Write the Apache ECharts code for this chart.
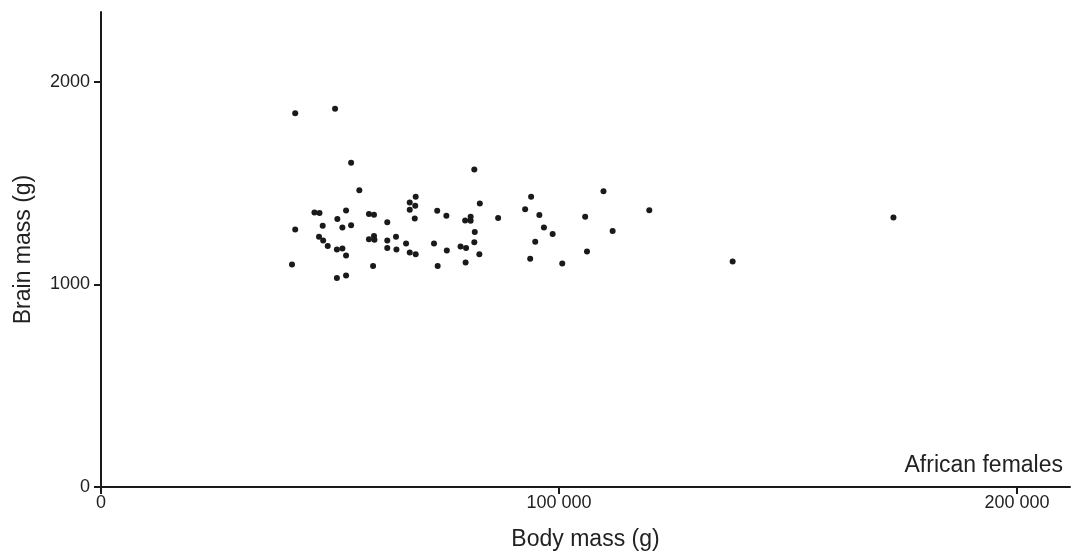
<!DOCTYPE html>
<html>
<head>
<meta charset="utf-8">
<script src="https://cdn.jsdelivr.net/npm/echarts@6/dist/echarts.min.js"></script>
<style>
html,body{margin:0;padding:0;background:#fff;}
#chart{width:1080px;height:560px;}
</style>
</head>
<body>
<div id="chart"></div>
<script>
// Body mass (g) and brain mass (g), African females
const bodyMass = [41700, 42400, 42400, 46600, 47700, 47600, 48500, 49500, 48400, 51100,
  51600, 51500, 51500, 52700, 52700, 53500, 53500, 53500, 54600, 54600,
  56400, 58500, 59600, 58500, 59600, 59700, 59400, 62500, 62500, 62500,
  64400, 64500, 66600, 67400, 67400, 68700, 68600, 68500, 67400, 68700,
  72700, 73400, 73500, 75400, 75500, 78500, 79500, 79700, 79600, 80700,
  80700, 81500, 81600, 81500, 82700, 82600, 86700, 92600, 93900, 95700,
  96700, 98600, 94800, 93700, 100700, 105700, 106100, 109700, 111700, 119700,
  137900, 173000];
const brainMass = [1098, 1271, 1844, 1355, 1352, 1235, 1217, 1189, 1289, 1867,
  1322, 1172, 1031, 1281, 1177, 1143, 1044, 1365, 1292, 1600,
  1465, 1347, 1343, 1223, 1239, 1220, 1091, 1306, 1217, 1179,
  1235, 1172, 1202, 1404, 1368, 1432, 1388, 1325, 1157, 1148,
  1202, 1363, 1090, 1338, 1167, 1187, 1315, 1180, 1108, 1333,
  1314, 1567, 1258, 1208, 1399, 1149, 1327, 1371, 1432, 1342,
  1281, 1249, 1210, 1126, 1103, 1333, 1162, 1460, 1263, 1366,
  1113, 1330];
const xTicks = [0, 100000, 200000];
const yTicks = [0, 1000, 2000];
const panelLabel = 'African females';

const points = bodyMass.map((x, i) => [x, brainMass[i]]);
const FONT = '"Liberation Sans", Arial, Helvetica, sans-serif';
const INK = '#1a1a1a';

function fmtThousands(v) {
  return String(v).replace(/\B(?=(\d{3})+(?!\d))/g, ' ');
}

const chart = echarts.init(document.getElementById('chart'), null, {renderer: 'canvas'});
chart.setOption({
  animation: false,
  backgroundColor: '#ffffff',
  title: {
    text: panelLabel,
    right: 17,
    top: 454,
    padding: 0,
    textStyle: {fontFamily: FONT, fontSize: 23, fontWeight: 'normal', color: '#222'}
  },
  grid: {left: 101, right: 10, top: 12, bottom: 73, containLabel: false},
  xAxis: {
    type: 'value',
    min: 0,
    max: 211550,
    name: 'Body mass (g)',
    nameLocation: 'middle',
    nameGap: 41,
    nameTextStyle: {fontFamily: FONT, fontSize: 23, color: '#222'},
    splitLine: {show: false},
    axisLine: {show: true, onZero: false, lineStyle: {color: INK, width: 2}},
    axisTick: {show: true, length: 7, customValues: xTicks, lineStyle: {color: INK, width: 2}},
    axisLabel: {
      customValues: xTicks,
      margin: 7,
      fontFamily: FONT, fontSize: 18, color: '#222',
      formatter: v => fmtThousands(v)
    }
  },
  yAxis: {
    type: 'value',
    min: 0,
    max: 2344,
    name: 'Brain mass (g)',
    nameLocation: 'middle',
    nameGap: 66,
    nameTextStyle: {fontFamily: FONT, fontSize: 23, color: '#222'},
    splitLine: {show: false},
    axisLine: {show: true, onZero: false, lineStyle: {color: INK, width: 2}},
    axisTick: {show: true, length: 7, customValues: yTicks, lineStyle: {color: INK, width: 2}},
    axisLabel: {
      customValues: yTicks,
      margin: 11,
      fontFamily: FONT, fontSize: 18, color: '#222',
      formatter: v => String(v)
    }
  },
  series: [{
    type: 'scatter',
    data: points,
    symbol: 'circle',
    symbolSize: 6,
    itemStyle: {color: INK, opacity: 1},
    emphasis: {disabled: true}
  }]
});
</script>
</body>
</html>
